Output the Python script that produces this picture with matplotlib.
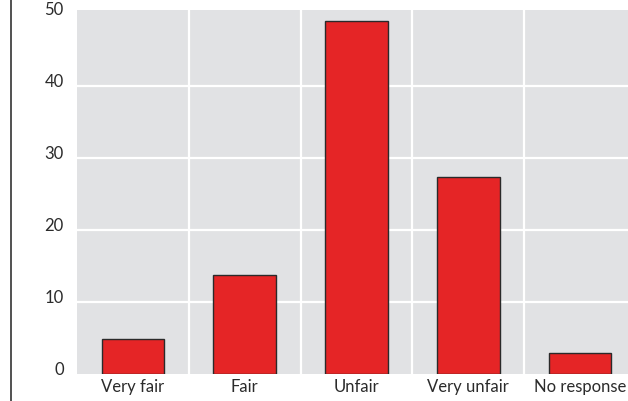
import matplotlib.pyplot as plt
from matplotlib.lines import Line2D

categories = ['Very fair', 'Fair', 'Unfair', 'Very unfair', 'No response']
values = [4.9, 13.7, 49.0, 27.4, 2.9]
y_ticks = [0, 10, 20, 30, 40, 50]

fig = plt.figure(figsize=(6.28, 4.02), dpi=100)
ax = fig.add_axes([77 / 628, 27 / 402, 559 / 628, 364 / 402])
ax.set_facecolor('#e1e2e4')

x = list(range(len(categories)))
ax.bar(x, values, width=0.56, color='#e52526', edgecolor='#2a2a2a', linewidth=1.0, zorder=3)

# white grid lines, horizontal at the ticks and vertical between categories
for yv in y_ticks[1:-1]:
    ax.axhline(yv, color='white', lw=1.6, zorder=1)
for xv in x[:-1]:
    ax.axvline(xv + 0.5, color='white', lw=1.6, zorder=1)

ax.set_xlim(-0.5, len(categories) - 0.5)
ax.set_ylim(0, 50.55)
ax.set_xticks(x)
ax.set_xticklabels(categories, fontsize=12, color='#2b2b2b', family='Lato')
ax.set_yticks(y_ticks)
ax.set_yticklabels([str(v) for v in y_ticks], fontsize=12, color='#2b2b2b', family='Lato')
plt.setp(ax.get_yticklabels(), va='baseline')
ax.tick_params(axis='both', length=0)
ax.tick_params(axis='y', pad=9.5)
ax.tick_params(axis='x', pad=3)
for s in ax.spines.values():
    s.set_visible(False)

# thin vertical rule at the far left of the figure
fig.add_artist(Line2D([11 / 628, 11 / 628], [0, 1], transform=fig.transFigure, color='#333333', lw=1.2))

fig.savefig('out.png', dpi=100)
